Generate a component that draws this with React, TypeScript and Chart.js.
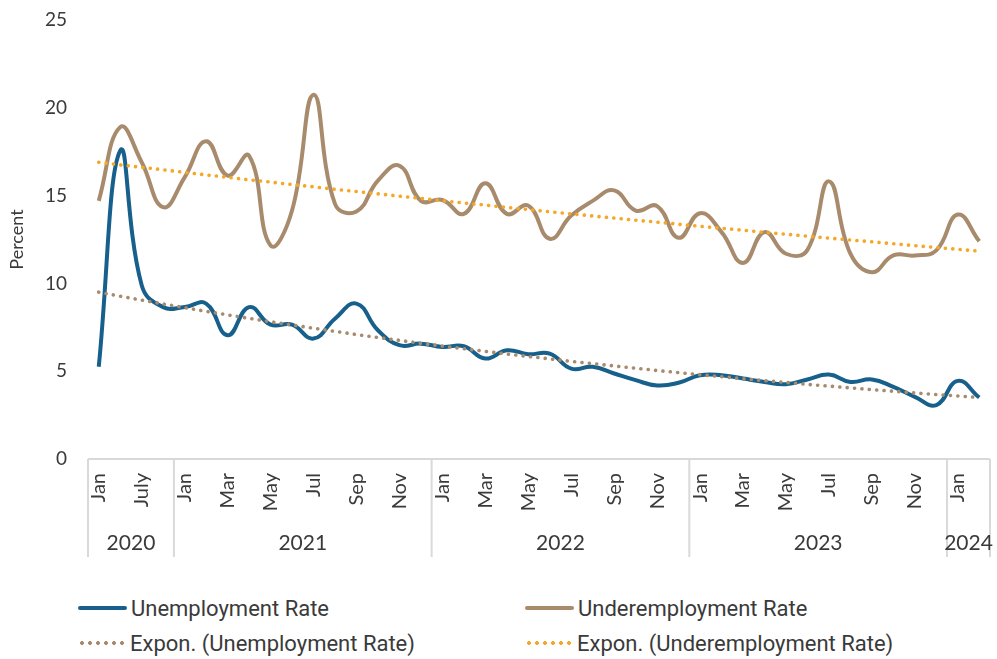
import React, { useEffect, useRef } from 'react';
import { Chart, registerables } from 'chart.js';

Chart.register(...registerables);

// ---- data ----
const monthLabels = [
  'Jan', 'Apr', 'July', 'Oct',
  'Jan', 'Feb', 'Mar', 'Apr', 'May', 'Jun', 'Jul', 'Aug', 'Sep', 'Oct', 'Nov', 'Dec',
  'Jan', 'Feb', 'Mar', 'Apr', 'May', 'Jun', 'Jul', 'Aug', 'Sep', 'Oct', 'Nov', 'Dec',
  'Jan', 'Feb', 'Mar', 'Apr', 'May', 'Jun', 'Jul', 'Aug', 'Sep', 'Oct', 'Nov', 'Dec',
  'Jan', 'Feb',
];
const yearLabels = ['2020', '2021', '2022', '2023', '2024'];
const yearSpans = [4, 12, 12, 12, 2];

const unemploymentRate = [
  5.25, 17.56, 9.9, 8.65,
  8.65, 8.85, 7.05, 8.65, 7.65, 7.65, 6.86, 7.99, 8.85, 7.33, 6.48, 6.57,
  6.38, 6.42, 5.72, 6.19, 5.97, 6.0, 5.15, 5.25, 4.87, 4.49, 4.19, 4.34,
  4.77, 4.77, 4.58, 4.39, 4.26, 4.53, 4.81, 4.39, 4.53, 4.11, 3.54, 3.07,
  4.45, 3.5,
];
const underemploymentRate = [
  14.7, 18.9, 16.9, 14.34,
  16.04, 18.1, 16.14, 17.27, 12.16, 14.15, 20.74, 14.53, 14.1, 15.85, 16.7, 14.7,
  14.75, 13.96, 15.7, 13.96, 14.43, 12.54, 13.86, 14.7, 15.3, 14.15, 14.4, 12.6,
  14.0, 12.92, 11.16, 12.92, 11.69, 11.91, 15.81, 11.69, 10.64, 11.59, 11.59, 11.88,
  13.92, 12.4,
];
const exponUnemployment = [
  9.5, 9.27, 9.05, 8.83,
  8.62, 8.41, 8.21, 8.01, 7.82, 7.63, 7.45, 7.27, 7.09, 6.92, 6.76, 6.59,
  6.43, 6.28, 6.13, 5.98, 5.84, 5.7, 5.56, 5.43, 5.3, 5.17, 5.04, 4.92,
  4.8, 4.69, 4.57, 4.46, 4.36, 4.25, 4.15, 4.05, 3.95, 3.86, 3.76, 3.67,
  3.59, 3.5,
];
const exponUnderemployment = [
  16.9, 16.75, 16.61, 16.47,
  16.32, 16.18, 16.04, 15.9, 15.77, 15.63, 15.5, 15.36, 15.23, 15.1, 14.97, 14.84,
  14.71, 14.58, 14.46, 14.33, 14.21, 14.08, 13.96, 13.84, 13.72, 13.6, 13.49, 13.37,
  13.25, 13.14, 13.03, 12.91, 12.8, 12.69, 12.58, 12.47, 12.37, 12.26, 12.15, 12.05,
  11.94, 11.84,
];
const yTicks = [0, 5, 10, 15, 20, 25];

// ---- style ----
const BLUE = '#17608C';
const BROWN = '#A88B6D';
const ORANGE = '#F5A827';
const TEXT = '#3a3a3a';
const AXIS = '#d9d9d9';
const FONT = 'Lato, "Open Sans", sans-serif';

const yearPlugin = {
  id: 'yearGroups',
  afterDraw(chart: any) {
    const { ctx, chartArea } = chart;
    const xs = chart.scales.x;
    const step = xs.getPixelForValue(1) - xs.getPixelForValue(0);
    const top = chartArea.bottom;
    const bottom = top + 98;
    ctx.save();
    ctx.strokeStyle = AXIS;
    ctx.lineWidth = 2;
    ctx.beginPath();
    ctx.moveTo(chartArea.left, top);
    ctx.lineTo(chartArea.right, top);
    ctx.stroke();
    ctx.font = `21px ${FONT}`;
    ctx.fillStyle = TEXT;
    ctx.textAlign = 'center';
    ctx.textBaseline = 'middle';
    let start = 0;
    yearSpans.forEach((n, gi) => {
      const l = xs.getPixelForValue(start) - step / 2;
      const r = xs.getPixelForValue(start + n - 1) + step / 2;
      ctx.beginPath();
      ctx.moveTo(l, top);
      ctx.lineTo(l, bottom);
      ctx.stroke();
      if (gi === yearSpans.length - 1) {
        ctx.beginPath();
        ctx.moveTo(r, top);
        ctx.lineTo(r, bottom);
        ctx.stroke();
      }
      ctx.fillText(yearLabels[gi], (l + r) / 2, top + 84);
      start += n;
    });
    ctx.restore();
  },
};

function Swatch({ color, dotted }: { color: string; dotted?: boolean }) {
  if (dotted) {
    return (
      <div
        style={{
          width: 48,
          height: 4,
          marginRight: 4,
          backgroundImage: `radial-gradient(circle, ${color} 1.7px, transparent 2.2px)`,
          backgroundSize: '8px 4px',
          backgroundPosition: '0 0',
        }}
      />
    );
  }
  return <div style={{ width: 49, height: 4, marginRight: 4, background: color, borderRadius: 2 }} />;
}

const legendItems = [
  { label: 'Unemployment Rate', color: BLUE, dotted: false, left: 78, top: 608 },
  { label: 'Underemployment Rate', color: BROWN, dotted: false, left: 525, top: 608 },
  { label: 'Expon. (Unemployment Rate)', color: BROWN, dotted: true, left: 78, top: 643 },
  { label: 'Expon. (Underemployment Rate)', color: ORANGE, dotted: true, left: 525, top: 643 },
];

export default function App() {
  const ref = useRef<HTMLCanvasElement>(null);

  useEffect(() => {
    document.body.style.margin = '0';
    const canvas = ref.current;
    if (!canvas) return;
    const chart = new Chart(canvas, {
      type: 'line',
      data: {
        labels: monthLabels,
        datasets: [
          {
            label: 'Unemployment Rate',
            data: unemploymentRate,
            borderColor: BLUE,
            backgroundColor: BLUE,
            borderWidth: 4,
            pointRadius: 0,
            tension: 0.45,
            order: 2,
          },
          {
            label: 'Underemployment Rate',
            data: underemploymentRate,
            borderColor: BROWN,
            backgroundColor: BROWN,
            borderWidth: 4,
            pointRadius: 0,
            tension: 0.45,
            order: 2,
          },
          {
            label: 'Expon. (Unemployment Rate)',
            data: exponUnemployment,
            borderColor: BROWN,
            backgroundColor: BROWN,
            borderWidth: 3.6,
            borderDash: [0.1, 7.3],
            borderCapStyle: 'round',
            pointRadius: 0,
            tension: 0,
            order: 1,
          },
          {
            label: 'Expon. (Underemployment Rate)',
            data: exponUnderemployment,
            borderColor: ORANGE,
            backgroundColor: ORANGE,
            borderWidth: 3.6,
            borderDash: [0.1, 7.3],
            borderCapStyle: 'round',
            pointRadius: 0,
            tension: 0,
            order: 1,
          },
        ],
      },
      options: {
        animation: false,
        responsive: false,
        maintainAspectRatio: false,
        devicePixelRatio: 1,
        layout: { padding: { top: 20, right: 7, left: 0, bottom: 0 } },
        plugins: {
          legend: { display: false },
          tooltip: { enabled: false },
        },
        scales: {
          x: {
            type: 'category',
            offset: true,
            grid: { display: false, drawTicks: false },
            border: { display: false },
            ticks: {
              autoSkip: false,
              minRotation: 90,
              maxRotation: 90,
              padding: 14,
              color: TEXT,
              font: { family: FONT, size: 20 },
              callback: (_v: any, i: number) => (i % 2 === 0 ? monthLabels[i] : ''),
            },
            afterFit: (scale: any) => {
              scale.height = 116;
              scale.paddingLeft = 0;
              scale.paddingRight = 0;
            },
          },
          y: {
            min: 0,
            max: 25,
            afterBuildTicks: (scale: any) => {
              scale.ticks = yTicks.map((v) => ({ value: v }));
            },
            grid: { display: false, drawTicks: false },
            border: { display: false },
            ticks: {
              padding: 21,
              color: TEXT,
              font: { family: FONT, size: 19 },
            },
            title: {
              display: true,
              text: 'Percent',
              color: TEXT,
              font: { family: FONT, size: 18 },
              padding: { top: 6, bottom: 0 },
            },
            afterFit: (scale: any) => {
              scale.width = 88;
              scale.paddingTop = 0;
              scale.paddingBottom = 0;
            },
          },
        },
      },
      plugins: [yearPlugin],
    });
    return () => chart.destroy();
  }, []);

  return (
    <div style={{ position: 'relative', width: 997, height: 659, background: '#fff' }}>
      <canvas ref={ref} width={997} height={575} style={{ display: 'block', width: 997, height: 575 }} />
      {legendItems.map((it) => (
        <div
          key={it.label}
          style={{
            position: 'absolute',
            left: it.left,
            top: it.top - 14,
            height: 28,
            display: 'flex',
            alignItems: 'center',
            fontFamily: 'Roboto, sans-serif',
            fontSize: 22,
            color: TEXT,
            whiteSpace: 'nowrap',
          }}
        >
          <Swatch color={it.color} dotted={it.dotted} />
          <span>{it.label}</span>
        </div>
      ))}
    </div>
  );
}
